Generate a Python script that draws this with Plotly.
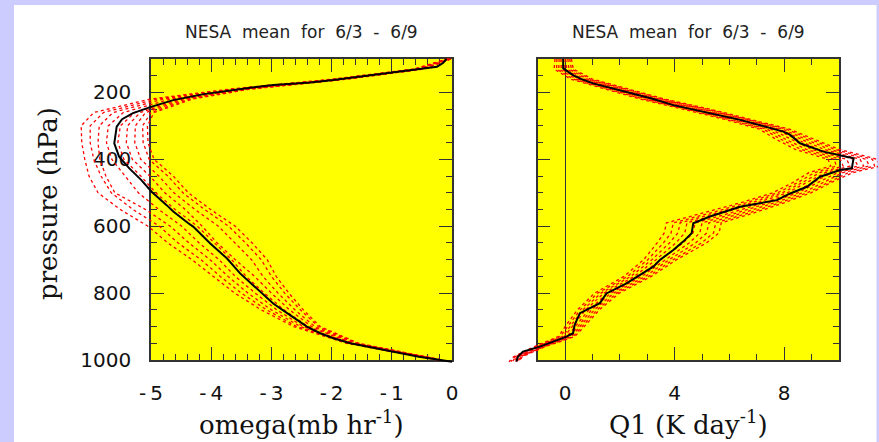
import plotly.graph_objects as go

# ---------------- data ----------------
# mean omega profile (black line)
P_OMEGA = [100, 112, 123, 130, 138, 150, 163, 170, 178, 186, 195, 205, 223, 243, 262, 280, 302,
           352, 392, 427, 462, 497, 537, 556, 591, 601, 651, 696, 741, 786, 831, 866, 900, 920,
           935, 950, 970, 990, 1005]
OMEGA = [-0.09, -0.15, -0.25, -0.55, -0.86, -1.4, -1.97, -2.35, -2.97, -3.35, -3.75, -4.12, -4.63,
         -5.0, -5.3, -5.48, -5.57, -5.61, -5.53, -5.36, -5.16, -4.99, -4.74, -4.63, -4.38, -4.30,
         -4.02, -3.74, -3.52, -3.24, -2.97, -2.69, -2.41, -2.19, -1.97, -1.69, -1.14, -0.55, 0.0]

# individual omega profiles (red dashed)
P_OM_MEMBERS = [100, 130, 160, 190, 220, 260, 300, 350, 400, 450, 500, 550, 600, 650, 700, 750,
                800, 850, 900, 950, 1000]
omega_m1 = [-0.08, -0.63, -1.97, -3.70, -5.02, -5.95, -6.16, -6.15, -6.10, -6.03, -5.88, -5.51, -5.05, -4.72, -4.32, -3.97, -3.61, -3.17, -2.63, -1.75, -0.23]
omega_m2 = [-0.07, -0.61, -1.94, -3.65, -4.91, -5.79, -6.01, -6.01, -5.95, -5.83, -5.66, -5.30, -4.86, -4.55, -4.17, -3.85, -3.50, -3.08, -2.58, -1.73, -0.22]
omega_m3 = [-0.07, -0.59, -1.91, -3.60, -4.80, -5.63, -5.86, -5.88, -5.85, -5.75, -5.60, -5.09, -4.68, -4.37, -4.02, -3.72, -3.39, -3.00, -2.52, -1.70, -0.22]
omega_m4 = [-0.06, -0.57, -1.88, -3.55, -4.68, -5.46, -5.71, -5.74, -5.65, -5.43, -5.21, -4.87, -4.49, -4.20, -3.87, -3.60, -3.27, -2.91, -2.47, -1.68, -0.21]
omega_m5 = [-0.05, -0.54, -1.84, -3.49, -4.55, -5.27, -5.51, -5.55, -5.45, -5.17, -4.92, -4.60, -4.23, -3.95, -3.66, -3.42, -3.12, -2.79, -2.39, -1.64, -0.20]
omega_m6 = [-0.04, -0.52, -1.81, -3.45, -4.48, -5.18, -5.39, -5.41, -5.31, -5.02, -4.77, -4.43, -4.15, -3.90, -3.60, -3.28, -3.00, -2.70, -2.33, -1.62, -0.19]
omega_m7 = [-0.03, -0.50, -1.78, -3.41, -4.42, -5.09, -5.26, -5.27, -5.17, -4.87, -4.62, -4.27, -3.88, -3.60, -3.33, -3.14, -2.89, -2.61, -2.28, -1.59, -0.18]
omega_m8 = [-0.02, -0.48, -1.75, -3.37, -4.36, -5.00, -5.14, -5.13, -5.03, -4.72, -4.47, -4.11, -3.71, -3.43, -3.17, -3.00, -2.78, -2.52, -2.22, -1.57, -0.17]
omega_m9 = [-0.02, -0.47, -1.73, -3.35, -4.32, -4.95, -5.06, -5.05, -4.95, -4.63, -4.38, -4.01, -3.60, -3.32, -3.07, -2.92, -2.71, -2.47, -2.19, -1.55, -0.17]

# mean Q1 profile (black line)
P_Q1 = [100, 128, 148, 160, 173, 195, 218, 238, 252, 262, 282, 317, 327, 352, 377, 397, 427, 432,
        452, 482, 502, 522, 542, 571, 591, 621, 646, 671, 701, 721, 771, 801, 830, 860, 870, 895,
        920, 930, 960, 975, 990, 1005]
Q1 = [-0.07, -0.07, 0.29, 0.6, 1.02, 2.12, 3.16, 3.95, 4.7, 5.29, 6.39, 7.97, 8.22, 8.58, 9.43,
      10.53, 10.47, 10.04, 9.31, 8.83, 8.22, 7.73, 6.39, 5.29, 4.68, 4.62, 4.31, 3.95, 3.46, 3.22,
      2.24, 1.51, 1.27, 0.54, 0.48, 0.35, 0.29, 0.05, -0.92, -1.54, -1.72, -1.78]

# individual Q1 profiles (red dashed)
P_Q1_MEMBERS = [100, 130, 160, 190, 220, 250, 280, 310, 340, 370, 400, 420, 440, 470, 500, 530,
                560, 590, 620, 650, 700, 750, 800, 850, 900, 930, 960, 990, 1005]
q1_m1 = [-0.37, -0.40, 0.20, 1.5, 2.75, 4.3, 5.8, 7.1, 7.7, 8.4, 9.6, 9.7, 8.9, 8.3, 7.58, 6.4, 5.1, 3.7, 3.62, 3.36, 2.87, 2.15, 1.08, 0.45, 0.0, -0.25, -1.12, -1.87, -2.05]
q1_m2 = [-0.30, -0.31, 0.30, 1.6, 2.86, 4.43, 5.93, 7.24, 7.88, 8.6, 9.83, 9.9, 9.1, 8.48, 7.76, 6.6, 5.33, 3.95, 3.87, 3.59, 3.02, 2.28, 1.19, 0.55, 0.09, -0.18, -1.07, -1.83, -1.98]
q1_m3 = [-0.22, -0.23, 0.40, 1.7, 2.98, 4.55, 6.05, 7.38, 8.05, 8.8, 10.05, 10.15, 9.3, 8.65, 7.93, 6.8, 5.55, 4.2, 4.12, 3.81, 3.17, 2.4, 1.31, 0.65, 0.18, -0.1, -1.02, -1.8, -1.92]
q1_m4 = [-0.15, -0.14, 0.50, 1.8, 3.09, 4.68, 6.18, 7.51, 8.23, 9.0, 10.28, 10.4, 9.5, 8.83, 8.11, 7.0, 5.78, 4.45, 4.37, 4.04, 3.32, 2.53, 1.42, 0.75, 0.26, -0.03, -0.97, -1.76, -1.86]
q1_m5 = [-0.05, -0.03, 0.62, 1.92, 3.22, 4.83, 6.33, 7.68, 8.44, 9.24, 10.55, 10.7, 9.74, 9.04, 8.32, 7.24, 6.05, 4.75, 4.67, 4.31, 3.5, 2.68, 1.55, 0.87, 0.37, 0.07, -0.91, -1.71, -1.8]
q1_m6 = [0.02, 0.06, 0.72, 2.02, 3.34, 4.95, 6.45, 7.82, 8.61, 9.44, 10.77, 10.9, 9.94, 9.21, 8.49, 7.44, 6.27, 5.0, 4.92, 4.53, 3.65, 2.8, 1.67, 0.97, 0.46, 0.14, -0.86, -1.68, -1.76]
q1_m7 = [0.10, 0.14, 0.82, 2.12, 3.45, 5.08, 6.58, 7.95, 8.79, 9.64, 11.0, 11.1, 10.14, 9.39, 8.67, 7.64, 6.5, 5.25, 5.17, 4.76, 3.8, 2.93, 1.78, 1.07, 0.54, 0.22, -0.81, -1.64, -1.72]
q1_m8 = [0.17, 0.23, 0.92, 2.22, 3.56, 5.2, 6.7, 8.09, 8.96, 9.84, 11.22, 11.3, 10.34, 9.56, 8.84, 7.84, 6.72, 5.5, 5.42, 4.98, 3.95, 3.05, 1.89, 1.17, 0.63, 0.29, -0.76, -1.6, -1.68]
q1_m9 = [0.23, 0.30, 1.0, 2.3, 3.65, 5.3, 6.8, 8.2, 9.1, 10.0, 11.4, 11.5, 10.5, 9.7, 8.98, 8.0, 6.9, 5.7, 5.62, 5.16, 4.07, 3.15, 1.98, 1.25, 0.7, 0.35, -0.72, -1.57, -1.65]

# ticks
P_RANGE = [1000, 100]
P_TICKS = [200, 400, 600, 800, 1000]
OMEGA_RANGE = [-5, 0]
OMEGA_TICKS = [-5, -4, -3, -2, -1, 0]
OMEGA_TICK_TEXT = ["-\u20095", "-\u20094", "-\u20093", "-\u20092", "-\u20091", "0"]
Q1_RANGE = [-1, 10]
Q1_TICKS = [0, 4, 8]

TITLE = "NESA\u00a0 mean\u00a0 for\u00a0 6/3\u00a0 -\u00a0 6/9"

# ---------------- layout helpers ----------------
W, H = 879, 442
FRAME = "#333333"


def fx(px):
    return px / W


def fy(py):
    return 1 - py / H


def ext_range(rng, dom, edom):
    a, b = rng
    d0, d1 = dom
    return [a + (edom[0] - d0) / (d1 - d0) * (b - a), a + (edom[1] - d0) / (d1 - d0) * (b - a)]


L_DOM_X = [fx(151), fx(452)]
R_DOM_X = [fx(537.7), fx(839)]
DOM_Y = [fy(360), fy(59)]
L_EXT_X = [fx(55), fx(470)]
R_EXT_X = [fx(495), fx(878)]
EXT_Y = [fy(376), fy(45)]

tickfont = dict(family="DejaVu Sans", size=20, color="#111111")
common = dict(ticks="inside", ticklen=13, tickwidth=1, tickcolor=FRAME, showline=True,
              linecolor=FRAME, linewidth=1.5, mirror="allticks", showgrid=False,
              zeroline=False, tickfont=tickfont, automargin=False)

fig = go.Figure()

# empty traces so that the framed (visible) subplots are registered
fig.add_trace(go.Scatter(x=[], y=[], xaxis="x", yaxis="y", showlegend=False, hoverinfo="skip"))
fig.add_trace(go.Scatter(x=[], y=[], xaxis="x2", yaxis="y2", showlegend=False, hoverinfo="skip"))

dash_line = dict(color="#ff0000", width=1.3, dash="3px,3px")
for m in [omega_m1, omega_m2, omega_m3, omega_m4, omega_m5, omega_m6, omega_m7, omega_m8, omega_m9]:
    fig.add_trace(go.Scatter(x=m, y=P_OM_MEMBERS, mode="lines", line=dash_line,
                             xaxis="x3", yaxis="y3", hoverinfo="skip", showlegend=False))
fig.add_trace(go.Scatter(x=OMEGA, y=P_OMEGA, mode="lines", line=dict(color="black", width=2),
                         xaxis="x3", yaxis="y3", showlegend=False))

for m in [q1_m1, q1_m2, q1_m3, q1_m4, q1_m5, q1_m6, q1_m7, q1_m8, q1_m9]:
    fig.add_trace(go.Scatter(x=m, y=P_Q1_MEMBERS, mode="lines", line=dash_line,
                             xaxis="x4", yaxis="y4", hoverinfo="skip", showlegend=False))
fig.add_trace(go.Scatter(x=Q1, y=P_Q1, mode="lines", line=dict(color="black", width=2),
                         xaxis="x4", yaxis="y4", showlegend=False))

hidden = dict(visible=False, automargin=False)
fig.update_layout(
    template="none",
    width=W, height=H, margin=dict(l=0, r=0, t=0, b=0, pad=0, autoexpand=False),
    paper_bgcolor="#ccccff", plot_bgcolor="rgba(0,0,0,0)", showlegend=False,
    xaxis=dict(domain=L_DOM_X, range=OMEGA_RANGE, anchor="y", tickmode="array",
               tickvals=OMEGA_TICKS, ticktext=OMEGA_TICK_TEXT, ticklabelstandoff=14,
               minor=dict(ticks="inside", ticklen=6, tickwidth=1, tickcolor=FRAME,
                          tick0=-5, dtick=0.2, showgrid=False), **common),
    yaxis=dict(domain=DOM_Y, range=P_RANGE, anchor="x", tickmode="array", tickvals=P_TICKS,
               ticklabelstandoff=14,
               minor=dict(ticks="inside", ticklen=6, tickwidth=1, tickcolor=FRAME,
                          tick0=0, dtick=50, showgrid=False), **common),
    xaxis2=dict(domain=R_DOM_X, range=Q1_RANGE, anchor="y2", tickmode="array",
                tickvals=Q1_TICKS, ticklabelstandoff=14,
                minor=dict(ticks="inside", ticklen=6, tickwidth=1, tickcolor=FRAME,
                           tick0=0, dtick=1, showgrid=False), **common),
    yaxis2=dict(domain=DOM_Y, range=P_RANGE, anchor="x2", tickmode="array", tickvals=P_TICKS,
                showticklabels=False,
                minor=dict(ticks="inside", ticklen=6, tickwidth=1, tickcolor=FRAME,
                           tick0=0, dtick=50, showgrid=False), **common),
    xaxis3=dict(domain=L_EXT_X, range=ext_range(OMEGA_RANGE, L_DOM_X, L_EXT_X), anchor="y3",
                **hidden),
    yaxis3=dict(domain=EXT_Y, range=ext_range(P_RANGE, DOM_Y, EXT_Y), anchor="x3", **hidden),
    xaxis4=dict(domain=R_EXT_X, range=ext_range(Q1_RANGE, R_DOM_X, R_EXT_X), anchor="y4",
                **hidden),
    yaxis4=dict(domain=EXT_Y, range=ext_range(P_RANGE, DOM_Y, EXT_Y), anchor="x4", **hidden),
)
fig.layout.xaxis2.zeroline = True
fig.layout.xaxis2.zerolinecolor = FRAME
fig.layout.xaxis2.zerolinewidth = 1

shapes = [
    dict(type="rect", xref="paper", yref="paper", x0=fx(14), x1=fx(876.5), y0=-0.01, y1=fy(5),
         fillcolor="white", line=dict(width=0), layer="below"),
    dict(type="rect", xref="paper", yref="paper", x0=L_DOM_X[0], x1=L_DOM_X[1],
         y0=DOM_Y[0], y1=DOM_Y[1], fillcolor="#ffff00", line=dict(width=0), layer="below"),
    dict(type="rect", xref="paper", yref="paper", x0=R_DOM_X[0], x1=R_DOM_X[1],
         y0=DOM_Y[0], y1=DOM_Y[1], fillcolor="#ffff00", line=dict(width=0), layer="below"),
]
fig.update_layout(shapes=shapes)

title_font = dict(family="DejaVu Sans", size=17, color="#222222")
serif = dict(family="DejaVu Serif", size=26, color="#111111")
ann = [
    dict(text=TITLE, x=(L_DOM_X[0] + L_DOM_X[1]) / 2, y=fy(32), xref="paper", yref="paper",
         showarrow=False, font=title_font, xanchor="center", yanchor="middle"),
    dict(text=TITLE, x=(R_DOM_X[0] + R_DOM_X[1]) / 2, y=fy(32), xref="paper", yref="paper",
         showarrow=False, font=title_font, xanchor="center", yanchor="middle"),
    dict(text="omega(mb hr<sup>-1</sup>)", x=(L_DOM_X[0] + L_DOM_X[1]) / 2, y=fy(423),
         xref="paper", yref="paper", showarrow=False, font=serif, xanchor="center",
         yanchor="middle"),
    dict(text="Q1 (K day<sup>-1</sup>)", x=(R_DOM_X[0] + R_DOM_X[1]) / 2, y=fy(423),
         xref="paper", yref="paper", showarrow=False, font=serif, xanchor="center",
         yanchor="middle"),
    dict(text="pressure (hPa)", x=fx(48), y=fy(204), xref="paper", yref="paper",
         showarrow=False, font=serif, textangle=-90, xanchor="center", yanchor="middle"),
]
fig.update_layout(annotations=ann)

fig.write_html("out.html")
